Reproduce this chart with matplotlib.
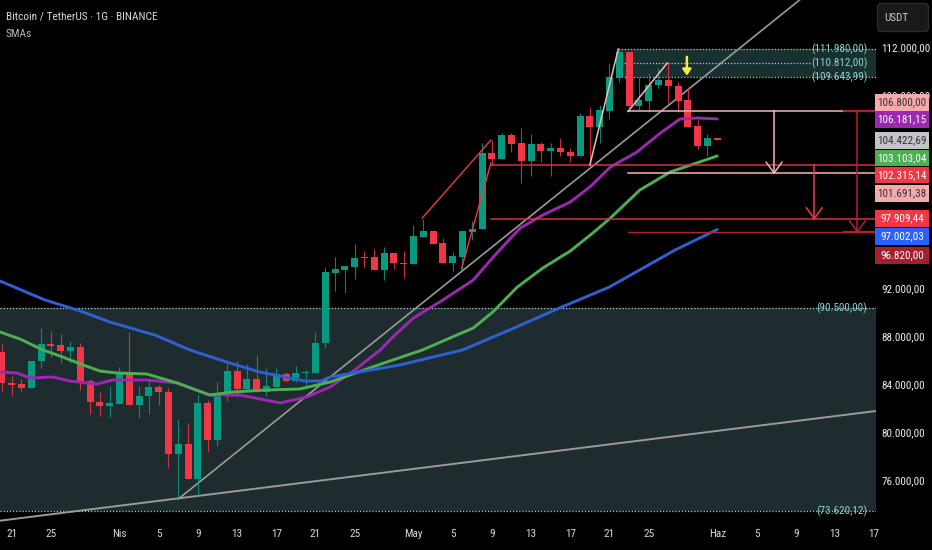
import matplotlib
matplotlib.use("Agg")
import matplotlib.pyplot as plt
from matplotlib import font_manager as fm
from matplotlib.patches import FancyBboxPatch, Rectangle
from matplotlib.transforms import ScaledTranslation

installed = {f.name for f in fm.fontManager.ttflist}
NARROW = next((n for n in ['Liberation Sans Narrow', 'Roboto Condensed', 'Open Sans Condensed'] if n in installed), None)
plt.rcParams['font.family'] = ([NARROW] if NARROW else []) + ['Roboto', 'DejaVu Sans']
FS = 8.0 if NARROW else 6.8

GREEN, RED = '#089981', '#f23645'

opens = [86863,84263,84180,83848,86061,87471,87416,86918,87250,84401,82686,82382,82548,85175,82465,83184,83903,83544,78371,79201,76296,82631,79560,83460,85286,83737,84595,83544,83958,85009,84429,85092,85120,
 87556,93420,93668,93917,94692,94692,93668,95024,94249,94111,96407,96905,95881,94249,94720,96822,97015,103322,102879,104871,104152,102713,104096,103515,103737,103460,
 103074,106448,105536,106836,109602,111704,107250,107693,109021,109408,108938,107748,105591,103931,104568]
closes = [84235,84097,83848,86116,87471,87361,86918,87250,84373,82658,82382,82603,85175,82465,83211,83903,83516,78371,79201,76296,82631,79560,83460,85286,83737,84595,83599,84041,85009,84429,85092,85175,87582,
 93447,93724,93973,94664,94609,93668,95024,94194,94166,96462,96905,95826,94249,94775,96905,97071,103322,102879,104843,104096,102713,104096,103515,103737,103432,103100,
 106448,105536,106919,109629,111759,107250,107748,109021,109408,108910,107693,105536,103931,104595,104401]
highs = [87499,84844,84567,86116,88799,88605,88301,87748,87554,84622,83516,84014,85618,88522,84014,84650,84097,83820,81275,80916,83350,82852,84373,86033,86116,85839,86586,85480,85480,85203,85701,85341,88467,
 93917,94747,93973,95770,95217,95356,95577,95024,95245,97375,97845,96905,96269,95162,96905,97734,104152,104428,104981,104981,105396,104926,104290,104207,104566,103737,
 106642,107195,107334,110846,112036,111704,109685,109961,110376,110791,109270,108855,106089,104927,104568]
lows = [83627,83184,83544,83848,85507,86448,85895,85895,83682,81690,81552,81414,82548,82465,81331,81663,82437,77182,74692,76296,74886,78565,79063,82797,83129,83682,83544,83184,83903,84318,84373,84014,85120,
 87141,91926,91705,92894,93917,93641,92811,93724,92994,94111,96407,95826,94249,93586,93641,96130,97015,102354,102879,103460,100832,101441,102630,101469,103100,102630,
 103074,102272,104208,106144,109270,106919,106919,106780,108717,107527,106780,105536,103682,103101,104401]
first_day = -1

blue_days = [-1.19,3.4,7.0,10.0,14.6,18.2,21.3,25.3,29.9,31.5,32.5,39.6,46.0,50.8,55.9,61.0,67.7,72]
blue_vals = [92726,91150,90237,89324,88245,86999,86170,85174,84427,84427,84759,85755,87000,88660,90486,92229,95300,97002]
green_days = [-1.19,0.85,3.2,5.2,7.3,9.0,10.7,13.8,16.9,20.2,22.6,26.0,29.4,32.5,37.1,41.9,47.1,49.1,51.6,54.2,57.0,59.3,61.1,64.1,67.2,72]
green_vals = [88494,87913,87000,86419,85756,85258,85092,85008,84261,83265,83514,83680,83764,84344,85672,87000,88826,90154,92229,93805,95216,96710,97955,100278,101772,103103]
purple_days = [-1.19,0.54,1.87,4.2,5.9,8.7,10.3,13.8,16.9,20.2,23.3,27.4,30.1,32.5,35,37.6,38.9,41,44,47.1,49.5,51.9,54.2,57,59,61.1,63.8,66.2,68.2,70,72]
purple_vals = [85174,85092,84677,84759,84427,84178,84510,84510,84261,83265,83265,82602,83100,83930,85340,87000,88079,89655,91150,92810,95050,97125,98204,99283,100527,102187,103432,105009,106171,106254,106181]

x_ticks = [0,4,11,15,19,23,27,31,35,41,45,49,53,57,61,65,72,76,80,84,88]
x_labels = ['21','25','Nis','5','9','13','17','21','25','May','5','9','13','17','21','25','Haz','5','9','13','17']
y_ticks = [112000,108000,92000,88000,84000,80000,76000]

levels_high = [111980, 110812, 109643.99]
levels_low = [90500, 73620.12]
level_text = ['(111.980,00)', '(110.812,00)', '(109.643,99)', '(90.500,00)', '(73.620,12)']

badge_text = ['106.800,00','106.181,15','104.422,69','103.103,04','102.315,14','101.691,38','97.909,44','97.002,03','96.820,00']
badge_fill = ['#f7a9ab','#9c27b0','#c3c3c8','#4caf50','#f23645','#f7a9ab','#f23645','#2962ff','#a5202c']
badge_ink = ['#333333','#ffffff','#333333','#ffffff','#ffffff','#333333','#ffffff','#ffffff','#ffffff']
badge_top = [94,111,132,150,167,185,210,228,247]
badge_h = [17,17,17,16,16,17,17,17,17]

fig = plt.figure(figsize=(9.32,5.5), dpi=100, facecolor='black')
ax = fig.add_axes([0, 28/550, 876/932, 522/550], facecolor='black')
ax.set_xlim(-1.194, 88.2)
ax.set_ylim(72726, 116047)
for s in ax.spines.values():
    s.set_visible(False)
ax.yaxis.tick_right()
ax.set_xticks(x_ticks, x_labels)
ax.set_yticks(y_ticks, [f"{v:,.2f}".replace(',', '#').replace('.', ',').replace('#', '.') for v in y_ticks])
ax.tick_params(axis='x', length=0, pad=5, labelsize=FS, colors='#d8dae0')
ax.tick_params(axis='y', length=0, pad=4, labelsize=FS, colors='#eceef2')
shift = ScaledTranslation(0, 2/100, fig.dpi_scale_trans)
for lab in ax.get_yticklabels():
    lab.set_transform(lab.get_transform() + shift)

# zones
ax.axhspan(levels_low[1], levels_low[0], color='#1e2c2f', lw=0, zorder=0)
ax.fill_between([61.9, 88.2], levels_high[2], levels_high[0], color='#183030', lw=0, zorder=0)
for y in levels_low:
    ax.axhline(y, color='#a8cfcc', lw=0.9, ls=(0,(1,1.5)), zorder=1)
for y, end in zip(levels_high, [88.2, 81.6, 88.2]):
    ax.plot([61.9, end], [y, y], color='#a8cfcc', lw=0.9, ls=(0,(1,1.5)), zorder=1)
for y, t in zip(levels_high + levels_low, level_text):
    ax.text(87.3, y, t, ha='right', va='center', color='#86d6cf', fontsize=FS, zorder=6,
            bbox=dict(facecolor='none', edgecolor='none', pad=0))

# trend lines
ax.plot([17, 80.4], [74635, 116047], color='#9a9a9a', lw=1.2, zorder=2)
ax.plot([-1.194, 88.2], [72834, 81938], color='#9a9a9a', lw=1.4, zorder=2)

# candles
for i, (o, h, l, c) in enumerate(zip(opens, highs, lows, closes)):
    d = first_day + i
    col = GREEN if c >= o else RED
    ax.vlines(d, l, h, color=col, lw=0.8, alpha=0.85, zorder=3)
    ax.bar(d, max(abs(c-o), 60), bottom=min(o, c), width=0.72, color=col, lw=0, zorder=3)

# SMAs
ax.plot(purple_days, purple_vals, color='#9c27b0', lw=2.1, zorder=4, solid_capstyle='round', solid_joinstyle='round')
ax.plot(green_days, green_vals, color='#4caf50', lw=2.1, zorder=4, solid_capstyle='round', solid_joinstyle='round')
ax.plot(blue_days, blue_vals, color='#2f5fd0', lw=2.1, zorder=4, solid_capstyle='round', solid_joinstyle='round')

# drawn lines
LRED, PINK, DRED = '#f23645', '#f7b4b6', '#b2222e'
ax.plot([41.9, 48.9], [97955, 104428], color=LRED, lw=1, zorder=5)
ax.plot([45.9, 48.9], [93722, 102519], color=LRED, lw=1, zorder=5)
ax.plot([48.9, 88.2], [102315.14, 102315.14], color='#d9303e', lw=1.1, zorder=5)
ax.plot([48.9, 88.2], [97909.44, 97909.44], color='#d9303e', lw=1.1, zorder=5)
ax.plot([59, 61.9], [102353, 111980], color=PINK, lw=1.1, zorder=5)
ax.plot([62.9, 66.9], [106800, 110818], color=PINK, lw=1.1, zorder=5)
ax.plot([62.9, 84.9], [106800, 106800], color=PINK, lw=1.1, zorder=5)
ax.plot([62.9, 88.2], [101691.38, 101691.38], color=PINK, lw=1.1, zorder=5)
ax.plot([62.9, 88.2], [96820, 96820], color=DRED, lw=1, zorder=5)
ax.plot([84.9, 88.2], [106800, 106800], color=DRED, lw=1.6, zorder=5)
ax.plot([84.9, 88.2], [96820, 96820], color=DRED, lw=1.6, zorder=5)

for day, y0, y1, col in [(77.8, 106800, 101691.38, PINK), (81.9, 102315.14, 97909.44, LRED), (86.3, 106800, 96820, DRED)]:
    ax.plot([day, day], [y0, y1], color=col, lw=1.1, zorder=5)
    ax.plot([day-0.8, day, day+0.8], [y1+890, y1, y1+890], color=col, lw=1.1, zorder=5)

ax.annotate('', xy=(68.9, 109780), xytext=(68.9, 111330), zorder=6,
            arrowprops=dict(arrowstyle='-|>,head_width=0.25,head_length=0.35', color='#ffeb3b', lw=1.8, shrinkA=0, shrinkB=0))

# overlay in pixels: legend text, price badges, currency button
ov = fig.add_axes([0, 0, 1, 1], facecolor='none', zorder=10)
ov.set_xlim(0, 932)
ov.set_ylim(550, 0)
ov.axis('off')
ov.text(6, 17, 'Bitcoin / TetherUS · 1G · BINANCE', color='#d8dae0', fontsize=FS+0.2, va='center', ha='left')
ov.text(6, 34, 'SMAs', color='#b8bac2', fontsize=FS+0.2, va='center', ha='left')
for t, f, ink, top, h in zip(badge_text, badge_fill, badge_ink, badge_top, badge_h):
    ov.add_patch(Rectangle((875, top), 54, h, facecolor=f, edgecolor='none'))
    ov.text(902, top + h/2, t, color=ink, fontsize=FS, ha='center', va='center')
ov.add_patch(FancyBboxPatch((880, 6), 46, 23, boxstyle='round,pad=2.5,rounding_size=4',
                            facecolor='#191919', edgecolor='#2c2c2c', lw=1))
ov.text(884, 18, 'USDT', color='#c8cad0', fontsize=FS, va='center', ha='left')

fig.savefig('out.png', dpi=100, facecolor='black')
